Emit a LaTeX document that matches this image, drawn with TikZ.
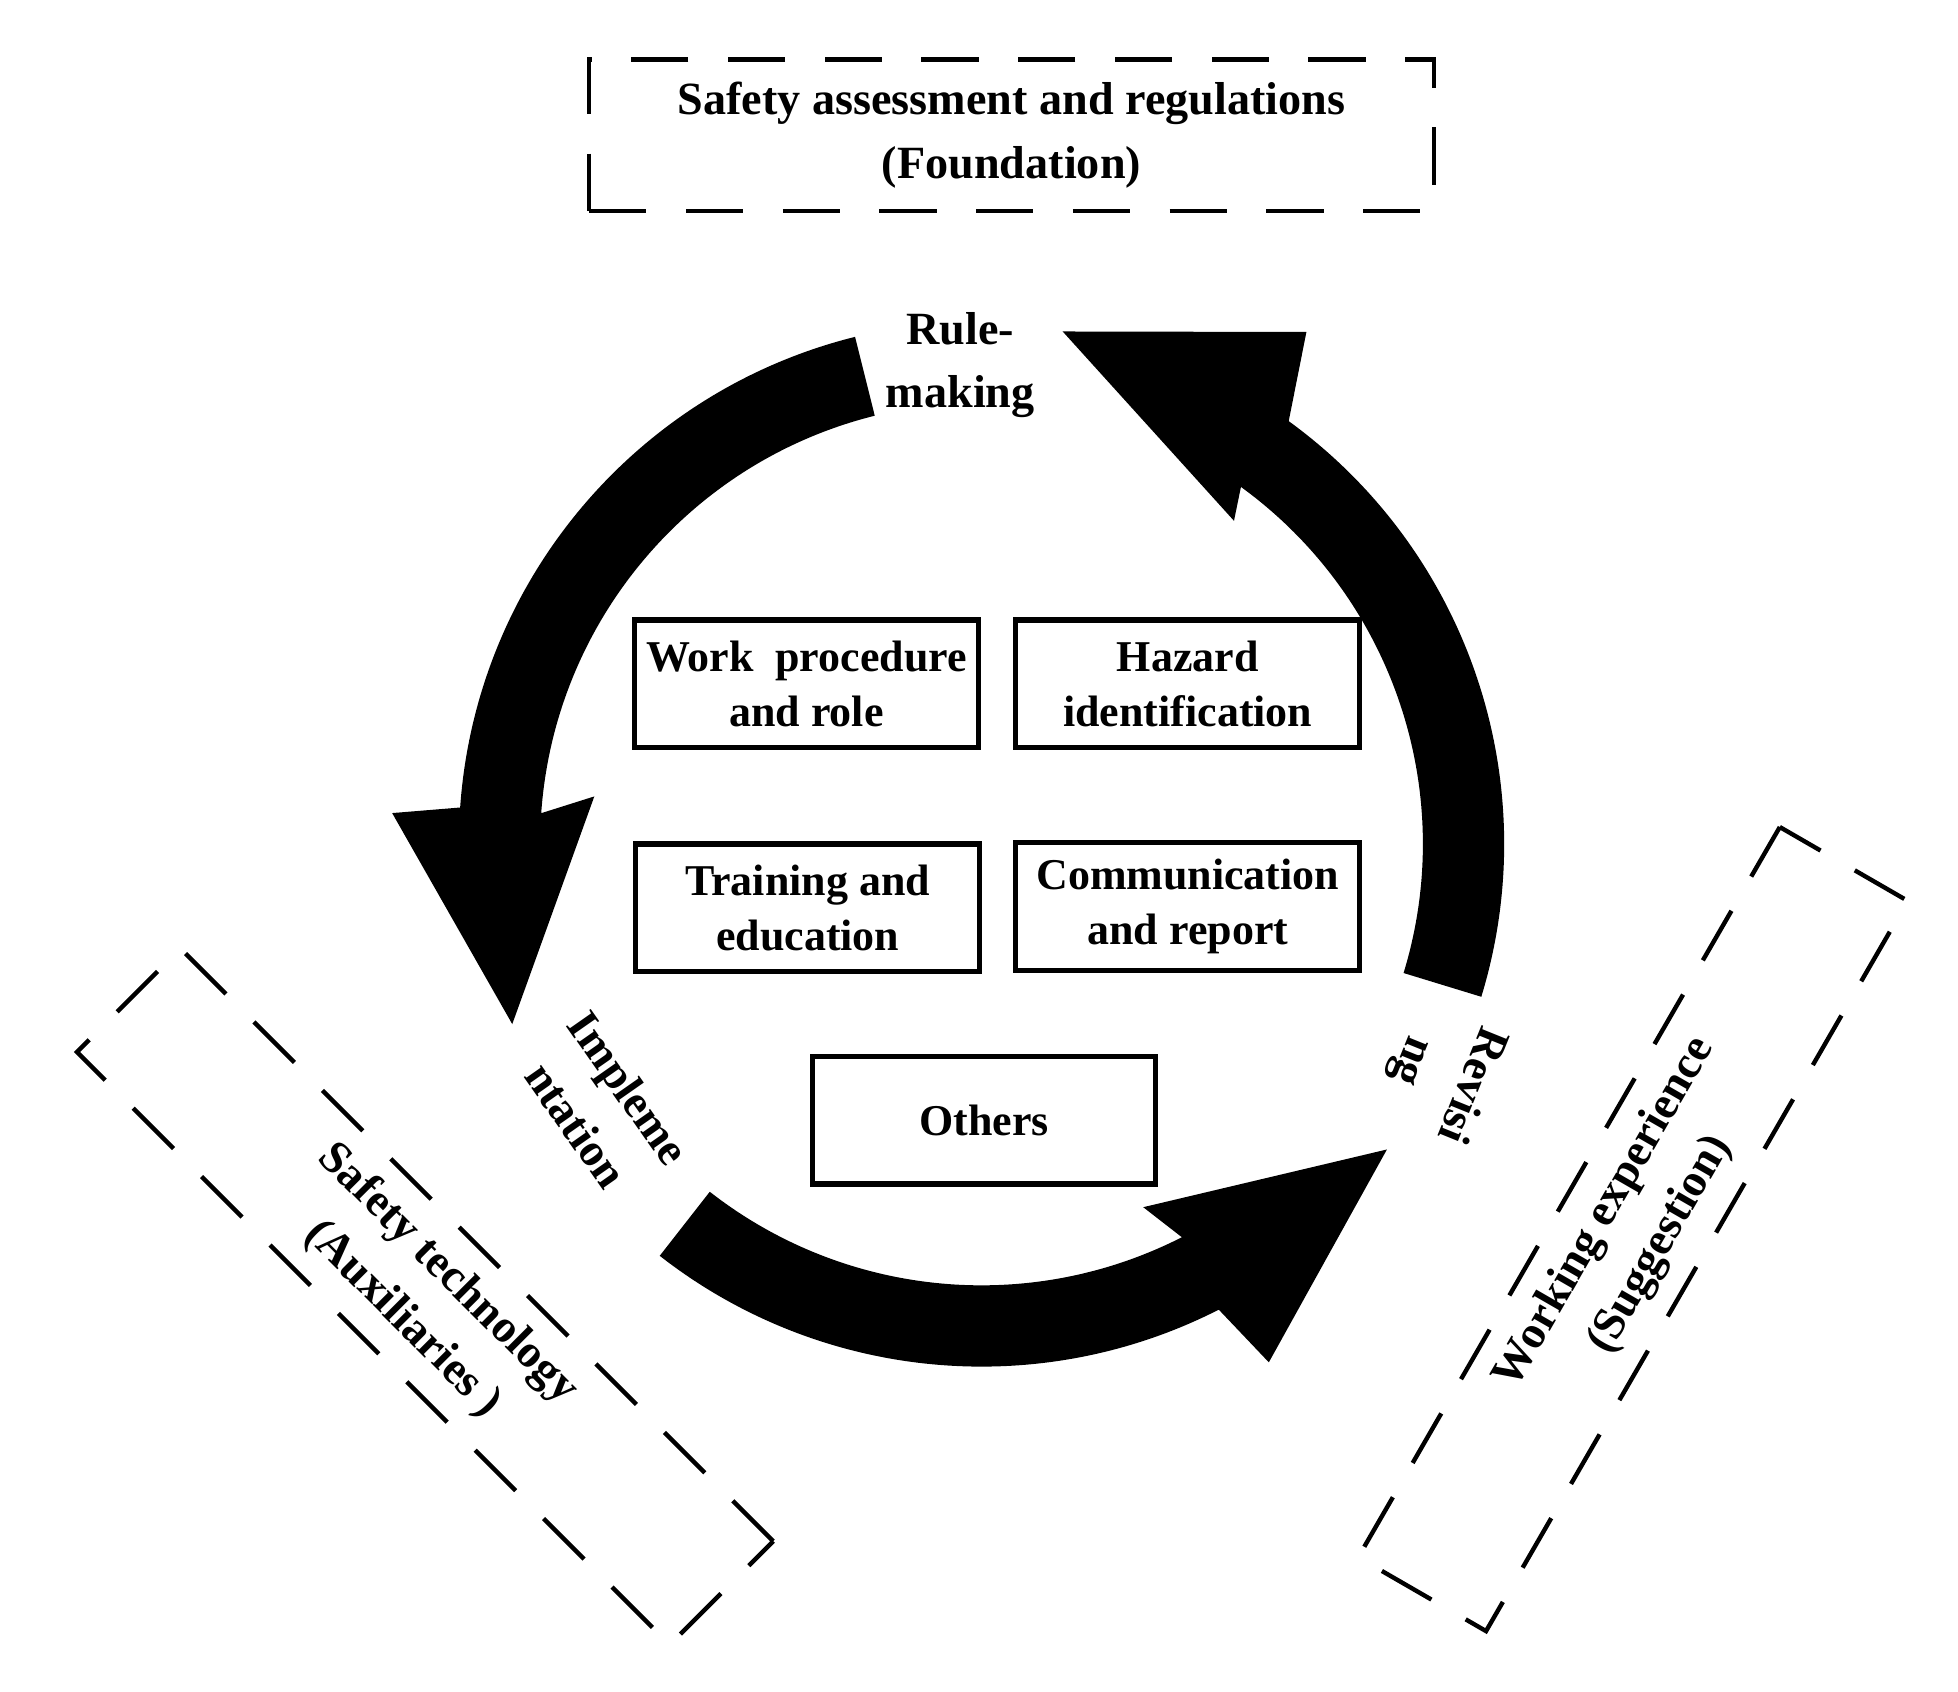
\documentclass[tikz,border=0pt]{standalone}
\usepackage{fontspec}
\setmainfont{Liberation Serif}
\begin{document}
\begin{tikzpicture}[x=0.01cm,y=0.01cm,
  every node/.style={font=\fontsize{10.5}{14.5}\selectfont\bfseries, align=center},
  box/.style={draw, line width=1.2pt, minimum width=2.75cm, minimum height=1.02cm, inner sep=2pt, font=\fontsize{10}{12.5}\selectfont\bfseries},
  dbox/.style={draw, line width=1pt, dash pattern=on 13pt off 9pt},
  arr/.style={fill=black}]
\useasboundingbox (0,0) rectangle (1566,1353);
% dashed context boxes
\node[dbox, minimum width=6.75cm, minimum height=1.21cm] (found) at (809,1245) {Safety assessment and regulations\\(Foundation)};
\node[dbox, minimum width=6.7cm, minimum height=1.17cm, rotate=-45] (tech) at (340,316) {Safety technology\\(Auxiliaries )};
\node[dbox, minimum width=6.74cm, minimum height=1.18cm, rotate=60] (work) at (1306,370) {Working experience\\(Suggestion)};
% cycle arrows
\begin{scope}[shift={(785,678)}]
 \fill[arr] (104:418) arc[start angle=104, end angle=176, radius=418] -- (177:472) -- (201:402) -- (173:312) -- (176:353) arc[start angle=176, end angle=104, radius=353] -- cycle;
 \fill[arr] (232:418) arc[start angle=232, end angle=297, radius=418] -- (299:474) -- (323:406) -- (294:318) -- (297:353) arc[start angle=297, end angle=232, radius=353] -- cycle;
 \fill[arr] (-17:418) arc[start angle=-17, end angle=54, radius=418] -- (57.6:485) -- (81:415) -- (52:328) -- (54:353) arc[start angle=54, end angle=-17, radius=353] -- cycle;
\end{scope}
% stage labels
\node (rule) at (768,1061) {Rule-\\making};
\node[rotate=-55] (impl) at (482,468) {Impleme\\ntation};
\node[rotate=-112] (rev) at (1152,495) {Revisi\\ng};
% inner boxes
\node[box] (wp) at (645,806) {Work\ \ procedure\\and role};
\node[box] (hz) at (950,806) {Hazard\\identification};
\node[box] (tr) at (646,627) {Training and\\education};
\node[box] (cm) at (950,628) {Communication\\and report};
\node[box, minimum width=2.74cm] (ot) at (787,457) {Others};
\end{tikzpicture}
\end{document}
